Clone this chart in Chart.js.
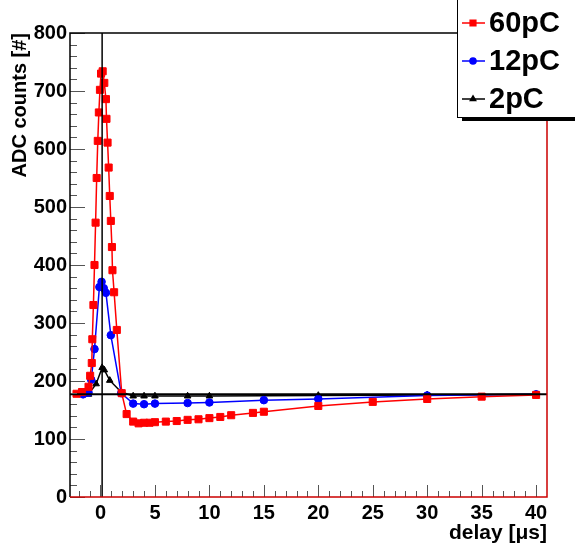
<!DOCTYPE html>
<html>
<head>
<meta charset="utf-8">
<script src="https://cdn.jsdelivr.net/npm/chart.js@4.4.1/dist/chart.umd.min.js"></script>
<style>
  html, body { margin: 0; padding: 0; background: #fff; }
</style>
</head>
<body>
<canvas id="adcChart" width="575" height="550"></canvas>
<script>
// --- data ---
const delay60 = [-2.2, -1.7, -1.1, -0.95, -0.8, -0.75, -0.65, -0.55, -0.45, -0.35, -0.25, -0.15, -0.05, 0.05, 0.2,
                 0.35, 0.5, 0.55, 0.65, 0.75, 0.85, 0.95, 1.05, 1.1, 1.25, 1.5, 1.95, 2.4, 3, 3.5, 4, 4.5, 5,
                 6, 7, 8, 9, 10, 11, 12, 14, 15, 20, 25, 30, 35, 40];
const adc60 = [178, 181, 190, 209, 231, 272, 331, 400, 473, 550, 614, 663, 702, 730, 734,
               714, 686, 652, 611, 568, 519, 476, 431, 391, 353, 288, 179, 143, 130, 127, 128, 128, 129,
               130, 131, 133, 134, 136, 138, 141, 145, 147, 157, 164, 169, 173, 176];

const delay12 = [-1.6, -1.1, -0.85, -0.55, -0.1, 0.1, 0.3, 0.5, 0.95, 1.9, 3, 4, 5, 8, 10, 15, 20, 30, 40];
const adc12 = [177, 180, 202, 255, 362, 371, 360, 352, 279, 179, 161, 160, 161, 162, 163, 167, 169, 175, 177];

const delay2 = [-1.6, -1.1, -0.4, 0.15, 0.35, 0.85, 1.9, 3, 4, 5, 8, 10, 20, 30, 40];
const adc2 = [177, 177, 195, 223, 219, 201, 181, 174, 174, 174, 174, 174, 175, 176, 177];

const seriesLabels = ['60pC', '12pC', '2pC'];
const seriesColors = ['#ff0000', '#0000ff', '#000000'];
const seriesMarkers = ['rect', 'circle', 'triangle'];

// reference lines (pedestal level and trigger time)
const pedestal = 177;
const triggerDelay = 0.15;

const xMin = -2.8, xMax = 41;
const yMin = 0, yMax = 800;

const FONT = '"Liberation Sans", Arial, sans-serif';

function toPoints(xs, ys) {
    return xs.map((x, i) => ({ x: x, y: ys[i] }));
}

// ticks inside the frame, ROOT style, plus the frame and the reference lines
const framePlugin = {
    id: 'frame',
    afterDatasetsDraw(chart) {
        const ctx = chart.ctx;
        const a = chart.chartArea;
        const xs = chart.scales.x, ys = chart.scales.y;
        ctx.save();

        // reference lines
        ctx.strokeStyle = '#000';
        ctx.lineWidth = 2;
        ctx.beginPath();
        ctx.moveTo(a.left, ys.getPixelForValue(pedestal));
        ctx.lineTo(a.right, ys.getPixelForValue(pedestal));
        ctx.stroke();
        ctx.lineWidth = 1.5;
        ctx.beginPath();
        ctx.moveTo(xs.getPixelForValue(triggerDelay), a.top);
        ctx.lineTo(xs.getPixelForValue(triggerDelay), a.bottom);
        ctx.stroke();

        // y ticks
        ctx.strokeStyle = '#555';
        ctx.lineWidth = 1;
        for (let v = yMin; v <= yMax; v += 20) {
            const py = Math.round(ys.getPixelForValue(v)) + 0.5;
            const len = (v % 100 === 0) ? 15 : 7;
            ctx.beginPath();
            ctx.moveTo(a.left, py);
            ctx.lineTo(a.left + len, py);
            ctx.stroke();
        }
        // x ticks
        for (let v = -2; v <= 40; v += 1) {
            const px = Math.round(xs.getPixelForValue(v)) + 0.5;
            const len = (v % 5 === 0) ? 12 : 6;
            ctx.beginPath();
            ctx.moveTo(px, a.bottom);
            ctx.lineTo(px, a.bottom - len);
            ctx.stroke();
        }

        // frame
        ctx.lineWidth = 1.5;
        ctx.strokeStyle = '#000';
        ctx.beginPath();
        ctx.moveTo(a.left, a.bottom);
        ctx.lineTo(a.left, a.top);
        ctx.lineTo(a.right, a.top);
        ctx.stroke();
        ctx.strokeStyle = '#cc0000';
        ctx.beginPath();
        ctx.moveTo(a.left, a.bottom);
        ctx.lineTo(a.right, a.bottom);
        ctx.lineTo(a.right, a.top);
        ctx.stroke();
        ctx.restore();
    }
};

// legend box in the upper right corner with its shadow
const boxLegend = {
    id: 'boxLegend',
    afterDraw(chart) {
        const ctx = chart.ctx;
        const bx = 457, by = -1, bw = 130, bh = 118;
        ctx.save();
        ctx.fillStyle = '#000';
        ctx.fillRect(bx + 5, by + bh, bw, 4);
        ctx.fillStyle = '#fff';
        ctx.fillRect(bx, by, bw, bh);
        ctx.strokeStyle = '#000';
        ctx.lineWidth = 1;
        ctx.strokeRect(bx + 0.5, by + 0.5, bw, bh);

        chart.data.datasets.forEach((ds, i) => {
            const cy = 23 + i * 38;
            ctx.strokeStyle = ds.borderColor;
            ctx.fillStyle = ds.backgroundColor;
            ctx.lineWidth = 1.5;
            ctx.beginPath();
            ctx.moveTo(bx + 5, cy);
            ctx.lineTo(bx + 28, cy);
            ctx.stroke();
            Chart.helpers.drawPoint(ctx, {
                pointStyle: ds.pointStyle, radius: ds.pointRadius * 0.8, borderWidth: 1
            }, bx + 16, cy);
            ctx.fillStyle = '#000';
            ctx.font = 'bold 29px ' + FONT;
            ctx.textBaseline = 'middle';
            ctx.textAlign = 'left';
            ctx.fillText(ds.label, bx + 32, cy + 1);
        });
        ctx.restore();
    }
};

const ctx = document.getElementById('adcChart').getContext('2d');
const allX = [delay60, delay12, delay2];
const allY = [adc60, adc12, adc2];

const adcChart = new Chart(ctx, {
    type: 'scatter',
    data: {
        datasets: seriesLabels.map((lbl, i) => ({
            label: lbl,
            data: toPoints(allX[i], allY[i]),
            showLine: true,
            borderColor: seriesColors[i],
            backgroundColor: seriesColors[i],
            pointStyle: seriesMarkers[i],
            pointRadius: i === 0 ? 5 : 3.8,
            pointBorderWidth: 1,
            borderWidth: 1.5,
            tension: 0
        }))
    },
    options: {
        responsive: false,
        animation: false,
        layout: { padding: { top: 33, right: 28, left: 0, bottom: 0 } },
        plugins: {
            legend: { display: false },
            tooltip: { enabled: false }
        },
        scales: {
            x: {
                type: 'linear',
                min: xMin,
                max: xMax,
                grid: { display: false, drawTicks: false },
                border: { display: false },
                ticks: {
                    stepSize: 5,
                    includeBounds: false,
                    color: '#000',
                    padding: 4,
                    maxRotation: 0,
                    font: { family: FONT, size: 20, weight: 'bold' }
                },
                title: {
                    display: true,
                    text: 'delay [μs]',
                    align: 'end',
                    color: '#000',
                    padding: { top: 0, bottom: 4 },
                    font: { family: FONT, size: 21, weight: 'bold' }
                },
                afterFit(s) { s.height = 53; }
            },
            y: {
                type: 'linear',
                min: yMin,
                max: yMax,
                grid: { display: false, drawTicks: false },
                border: { display: false },
                ticks: {
                    stepSize: 100,
                    color: '#000',
                    padding: 3,
                    font: { family: FONT, size: 20, weight: 'bold' }
                },
                title: {
                    display: true,
                    text: 'ADC counts [#]',
                    align: 'end',
                    color: '#000',
                    padding: { top: 8, bottom: 0 },
                    font: { family: FONT, size: 20, weight: 'bold' }
                },
                afterFit(s) { s.width = 70; }
            }
        }
    },
    plugins: [framePlugin, boxLegend]
});
</script>
</body>
</html>
